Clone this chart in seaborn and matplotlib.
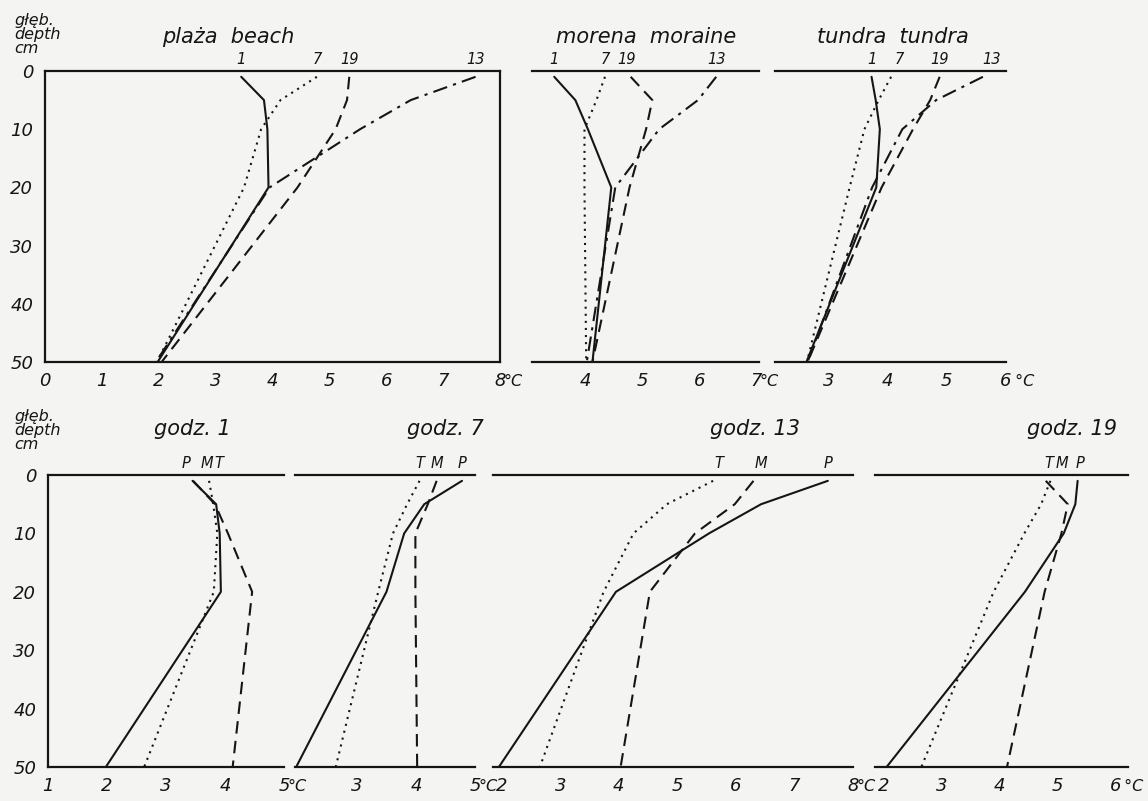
import matplotlib
matplotlib.use("Agg")
import matplotlib.pyplot as plt
import pandas as pd
import seaborn as sns
from matplotlib.ticker import MultipleLocator

W, H = 1148, 801

DEPTHS = [1, 5, 10, 20, 50]
HOURS = [1, 7, 13, 19]
SITES = ["P", "M", "T"]
SITE_TITLES = ["plaża  beach", "morena  moraine", "tundra  tundra"]
HOUR_TITLES = ["godz. 1", "godz. 7", "godz. 13", "godz. 19"]

# soil temperature (°C) at DEPTHS
beach_1 = [3.45, 3.85, 3.91, 3.93, 1.98]
beach_7 = [4.78, 4.14, 3.80, 3.50, 1.97]
beach_13 = [7.57, 6.43, 5.54, 3.95, 1.95]
beach_19 = [5.35, 5.31, 5.11, 4.44, 2.05]

moraine_1 = [3.46, 3.83, 4.05, 4.46, 4.13]
moraine_7 = [4.35, 4.20, 3.99, 3.99, 4.02]
moraine_13 = [6.30, 5.98, 5.30, 4.53, 4.03]
moraine_19 = [4.80, 5.18, 5.07, 4.78, 4.13]

tundra_1 = [3.73, 3.80, 3.87, 3.81, 2.63]
tundra_7 = [4.06, 3.85, 3.61, 3.36, 2.64]
tundra_13 = [5.61, 4.82, 4.25, 3.74, 2.65]
tundra_19 = [4.88, 4.72, 4.43, 3.90, 2.65]

PROFILES = {
    "P": {1: beach_1, 7: beach_7, 13: beach_13, 19: beach_19},
    "M": {1: moraine_1, 7: moraine_7, 13: moraine_13, 19: moraine_19},
    "T": {1: tundra_1, 7: tundra_7, 13: tundra_13, 19: tundra_19},
}

rows = []
for site, by_hour in PROFILES.items():
    for hour, temps in by_hour.items():
        for d, t in zip(DEPTHS, temps):
            rows.append({"site": site, "hour": hour, "depth": d, "temp": t})
df = pd.DataFrame(rows)

HOUR_DASHES = {1: "", 7: (1, 2.4), 13: (7, 3, 1.5, 3), 19: (6, 3.5)}
SITE_DASHES = {"P": "", "M": (6, 3.5), "T": (1, 2.4)}

# small shifts of the curve labels so they don't collide
TOP_NUDGE = {("M", 19): -0.08, ("T", 7): 0.13, ("T", 13): 0.15}
BOT_NUDGE = {(1, "P"): -0.11, (1, "M"): 0.24, (1, "T"): 0.17,
             (13, "T"): 0.09, (13, "M"): 0.12,
             (19, "T"): -0.02, (19, "M"): 0.28, (19, "P"): 0.05}

sns.set_style("white")
plt.rcParams["font.family"] = ["DejaVu Sans"]
INK = "#151515"

fig = plt.figure(figsize=(W / 100, H / 100), dpi=100)
fig.patch.set_facecolor("#f4f5f3")


def px_axes(x0, x1, y0, y1):
    return fig.add_axes([x0 / W, 1 - y1 / H, (x1 - x0) / W, (y1 - y0) / H])


def style_panel(ax, xlim, xticks, first, box=False, unit="°C"):
    ax.set_xlim(*xlim)
    ax.set_ylim(50, 0)
    ax.set_facecolor("none")
    ax.set_xlabel("")
    ax.set_ylabel("")
    ax.set_xticks(xticks)
    ax.set_xticklabels([str(t) for t in xticks], fontstyle="italic", fontsize=13, color=INK)
    ax.tick_params(axis="x", direction="out", length=4, width=1.3, pad=3, colors=INK)
    for s in ax.spines.values():
        s.set_linewidth(1.6)
        s.set_color(INK)
    ax.spines["right"].set_visible(box)
    ax.spines["left"].set_visible(first)
    if first:
        ax.set_yticks(range(0, 51, 10))
        ax.set_yticklabels([str(v) for v in range(0, 51, 10)], fontstyle="italic", fontsize=13)
        ax.yaxis.set_minor_locator(MultipleLocator(1))
        ax.tick_params(axis="y", which="major", direction="out", length=6.5, width=1.4, pad=2, colors=INK)
        ax.tick_params(axis="y", which="minor", direction="in", length=3, width=1.0, colors=INK)
    else:
        ax.set_yticks([])
    # unit after the last tick label, on the same baseline as the digits
    ax.annotate(unit, xy=(xticks[-1], 0), xycoords=("data", "axes fraction"),
                xytext=(2.6, -17.6), textcoords="offset points", ha="left", va="baseline",
                fontsize=11.5, fontstyle="italic", color=INK, annotation_clip=False)


def depth_label(x, y):
    fig.text(x / W, 1 - y / H, "głęb.\ndepth\ncm", fontsize=11.5, fontstyle="italic",
             va="top", ha="left", linespacing=0.9, color=INK)


def curve_label(ax, text, x):
    ax.annotate(text, xy=(x, 0), xytext=(0, 3), textcoords="offset points",
                ha="center", va="bottom", fontsize=10.5, fontstyle="italic",
                color=INK, annotation_clip=False)


# top row: one site per panel, one curve per hour
TOP_AXES = [(45, 500, (0, 8), list(range(0, 9))),
            (532, 759, (3.07, 7.05), [4, 5, 6, 7]),
            (775, 1006, (2.1, 6.0), [3, 4, 5, 6])]
TOP_TITLE_X = [228, 646, 893]

for i, (site, (x0, x1, xlim, xt)) in enumerate(zip(SITES, TOP_AXES)):
    ax = px_axes(x0, x1, 71, 362)
    sub = df[df["site"] == site]
    sns.lineplot(data=sub, x="temp", y="depth", style="hour", dashes=HOUR_DASHES,
                 sort=False, estimator=None, color=INK, lw=1.5, legend=False, ax=ax)
    style_panel(ax, xlim, xt, first=(i == 0), box=(i == 0),
                unit="°C" if i < 2 else " °C")
    for hour in HOURS:
        curve_label(ax, str(hour), PROFILES[site][hour][0] + TOP_NUDGE.get((site, hour), 0))
    fig.text(TOP_TITLE_X[i] / W, 1 - 43 / H, SITE_TITLES[i], fontsize=15,
             fontstyle="italic", ha="center", va="baseline", color=INK)

depth_label(14, 13)

# bottom row: one hour per panel, one curve per site
BOT_AXES = [(48, 284, (1, 5), [1, 2, 3, 4, 5]),
            (295, 475, (1.95, 5), [3, 4, 5]),
            (493, 853, (1.85, 8), [2, 3, 4, 5, 6, 7, 8]),
            (875, 1128, (1.85, 6.22), [2, 3, 4, 5, 6])]
BOT_TITLE_X = [192, 445, 755, 1072]

for i, (hour, (x0, x1, xlim, xt)) in enumerate(zip(HOURS, BOT_AXES)):
    ax = px_axes(x0, x1, 475, 767)
    sub = df[df["hour"] == hour]
    sns.lineplot(data=sub, x="temp", y="depth", style="site", dashes=SITE_DASHES,
                 sort=False, estimator=None, color=INK, lw=1.5, legend=False, ax=ax)
    style_panel(ax, xlim, xt, first=(i == 0), unit="°C" if i < 3 else " °C")
    for site in SITES:
        curve_label(ax, site, PROFILES[site][hour][0] + BOT_NUDGE.get((hour, site), 0))
    fig.text(BOT_TITLE_X[i] / W, 1 - 435 / H, HOUR_TITLES[i], fontsize=15,
             fontstyle="italic", ha="center", va="baseline", color=INK)

depth_label(14, 409)

fig.savefig("out.png", dpi=100, facecolor=fig.get_facecolor())
